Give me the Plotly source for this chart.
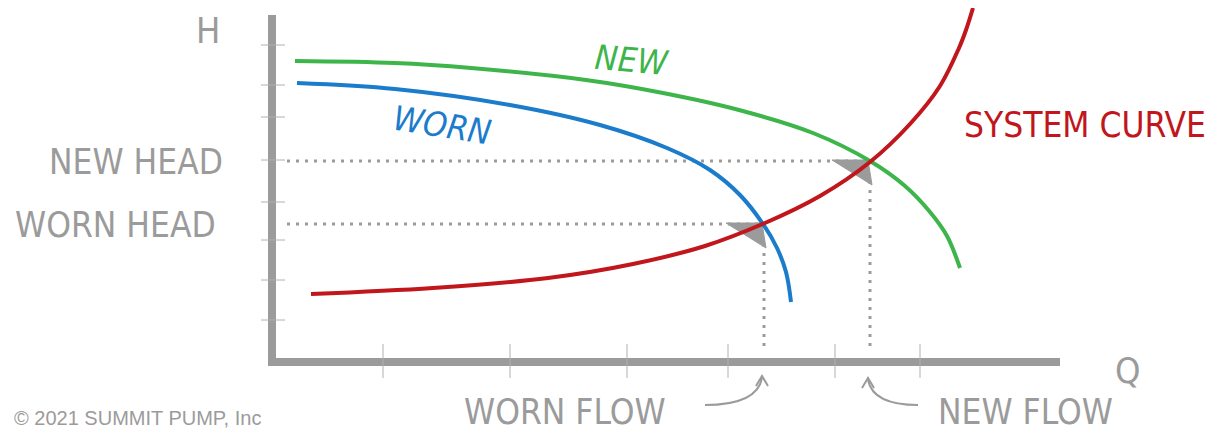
import plotly.graph_objects as go

# Flow (Q) and head (H) readings, origin at the axes corner
new_q = [20, 120, 196, 311, 388, 464, 538, 595, 630, 655, 672, 685]
new_h = [299, 297, 292, 280, 267, 250, 227, 199, 174, 148, 124, 92]

worn_q = [22, 120, 235, 325, 392, 435, 465, 488, 502, 511, 516]
worn_h = [277, 271, 255, 235, 212, 190, 165, 136, 112, 88, 58]

sys_q = [36, 158, 273, 358, 430, 490, 545, 595, 635, 665, 684, 691, 698]
sys_h = [66, 72, 82, 96, 114, 137, 164, 198, 236, 274, 312, 330, 352]

# operating points (worn, new)
op_q = [489, 595]
op_h = [136, 199]

y_ticks = [315, 275, 243, 200, 158, 120, 80, 40]
x_ticks = [108, 235, 352, 453, 560, 645]

GREEN = "#3db54a"
BLUE = "#1b7ccb"
RED = "#c0161c"
GRAY = "#9b9b9b"
FONT = "DejaVu Sans Condensed, Liberation Sans Narrow, sans-serif"

fig = go.Figure()

# dotted guide lines
for q, h in zip(op_q, op_h):
    fig.add_trace(go.Scatter(x=[12, q - 5], y=[h, h], mode="lines",
                             line=dict(color=GRAY, width=3, dash="3px,6px"), hoverinfo="skip"))
    fig.add_trace(go.Scatter(x=[q, q], y=[h - 20, 8], mode="lines",
                             line=dict(color=GRAY, width=3, dash="3px,6px"), hoverinfo="skip"))
    # arrow wedge
    fig.add_trace(go.Scatter(x=[q - 38, q - 2, q + 2, q - 38], y=[h + 1, h + 1, h - 24, h + 1],
                             mode="lines", fill="toself", fillcolor=GRAY,
                             line=dict(color=GRAY, width=1), hoverinfo="skip"))

sm = 1.0
fig.add_trace(go.Scatter(x=new_q, y=new_h, mode="lines",
                         line=dict(color=GREEN, width=4, shape="spline", smoothing=sm), name="NEW"))
fig.add_trace(go.Scatter(x=worn_q, y=worn_h, mode="lines",
                         line=dict(color=BLUE, width=4, shape="spline", smoothing=sm), name="WORN"))
fig.add_trace(go.Scatter(x=sys_q, y=sys_h, mode="lines",
                         line=dict(color=RED, width=4, shape="spline", smoothing=sm), name="SYSTEM CURVE"))

shapes = []
# axes
shapes.append(dict(type="line", x0=-3, x1=-3, y0=345, y1=-4, line=dict(color=GRAY, width=8)))
shapes.append(dict(type="line", x0=-7, x1=785, y0=-2, y1=-2, line=dict(color=GRAY, width=8)))
for t in y_ticks:
    shapes.append(dict(type="line", x0=-14, x1=10, y0=t, y1=t, line=dict(color="#b0b0b0", width=1)))
for t in x_ticks:
    shapes.append(dict(type="line", x0=t, x1=t, y0=16, y1=-18, line=dict(color="#b0b0b0", width=1)))
# curved pointer arrows
shapes.append(dict(type="path", path="M 430,-45 Q 482,-45 487,-18", line=dict(color=GRAY, width=2)))
shapes.append(dict(type="path", path="M 481,-26 L 487,-16 L 493,-26", line=dict(color=GRAY, width=2)))
shapes.append(dict(type="path", path="M 643,-45 Q 598,-45 593,-20", line=dict(color=GRAY, width=2)))
shapes.append(dict(type="path", path="M 587,-28 L 593,-18 L 599,-28", line=dict(color=GRAY, width=2)))

ann = []
def txt(x, y, s, size, color=GRAY, xanchor="center", angle=0, family=FONT, yanchor="middle"):
    ann.append(dict(x=x, y=y, text=s, showarrow=False, xanchor=xanchor, yanchor=yanchor,
                    textangle=angle, font=dict(family=family, size=size, color=color)))

txt(-67, 330, "H", 36)
txt(-50, 198, "NEW HEAD", 35, xanchor="right")
txt(-57, 135, "WORN HEAD", 35, xanchor="right")
txt(853, -10, "Q", 36)
txt(290, -52, "WORN FLOW", 35)
txt(750, -52, "NEW FLOW", 35)
txt(357, 300, "<i>NEW</i>", 34, color=GREEN, angle=5)
txt(167, 235, "<i>WORN</i>", 34, color=BLUE, angle=9)
txt(810, 235, "SYSTEM CURVE", 35, color=RED)
txt(-263, -71, "© 2021 SUMMIT PUMP, Inc", 20, xanchor="left", yanchor="bottom",
    family="Liberation Sans, Arial, sans-serif")

fig.update_layout(
    width=1209, height=424, margin=dict(l=0, r=0, t=0, b=0),
    paper_bgcolor="white", plot_bgcolor="white", showlegend=False,
    xaxis=dict(range=[-267, 942], visible=False, fixedrange=True),
    yaxis=dict(range=[-72, 352], visible=False, fixedrange=True),
    shapes=shapes, annotations=ann,
)

fig.write_html("out.html")
